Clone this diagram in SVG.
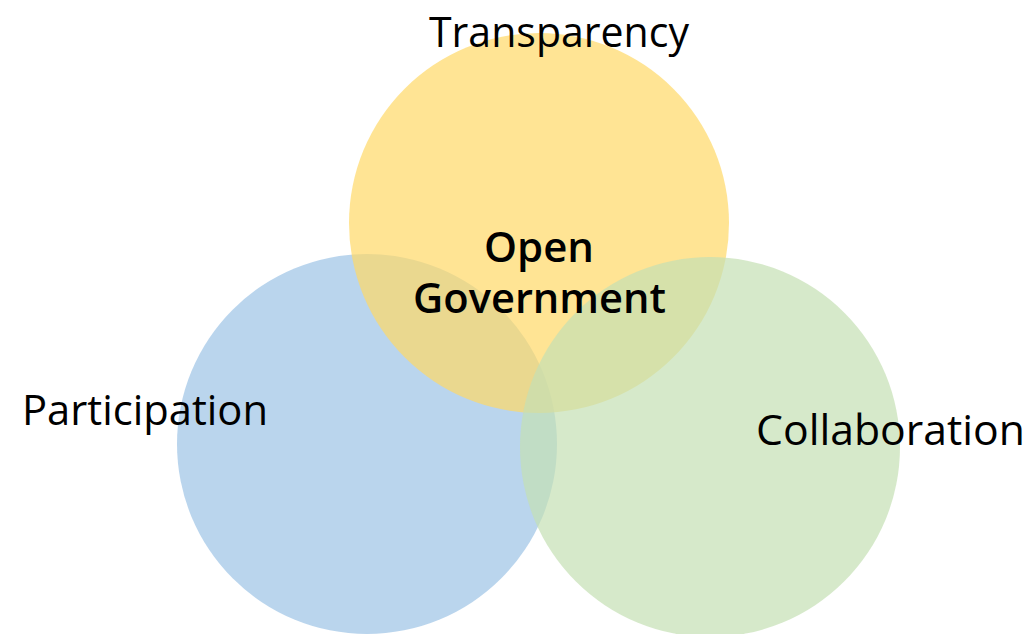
<svg xmlns="http://www.w3.org/2000/svg" width="1033" height="634" viewBox="0 0 1033 634">
<style>
.lbl{font-family:"Open Sans","Noto Sans","Liberation Sans",sans-serif;fill:#000;}
.reg{font-size:42px;font-weight:400;}
.bold{font-size:42px;font-weight:600;}
</style>
<rect width="1033" height="634" fill="#ffffff"/>
<g id="connectors"></g>
<g id="participation">
<circle cx="367" cy="444" r="190" fill="#9DC3E6" fill-opacity="0.7"/>
</g>
<g id="transparency">
<circle cx="539" cy="223" r="190" fill="#FFD966" fill-opacity="0.7"/>
</g>
<g id="collaboration">
<circle cx="710" cy="447" r="190" fill="#C5E0B4" fill-opacity="0.7"/>
</g>
<g id="labels">
<text class="lbl reg" x="429" y="47" textLength="260" lengthAdjust="spacingAndGlyphs">Transparency</text>
<text class="lbl reg" x="22" y="425" textLength="246" lengthAdjust="spacingAndGlyphs">Participation</text>
<text class="lbl reg" x="756" y="445" textLength="269" lengthAdjust="spacingAndGlyphs">Collaboration</text>
</g>
<g id="center">
<text class="lbl bold" x="484" y="262" textLength="110" lengthAdjust="spacingAndGlyphs">Open</text>
<text class="lbl bold" x="413" y="313" textLength="253" lengthAdjust="spacingAndGlyphs">Government</text>
</g>
</svg>
